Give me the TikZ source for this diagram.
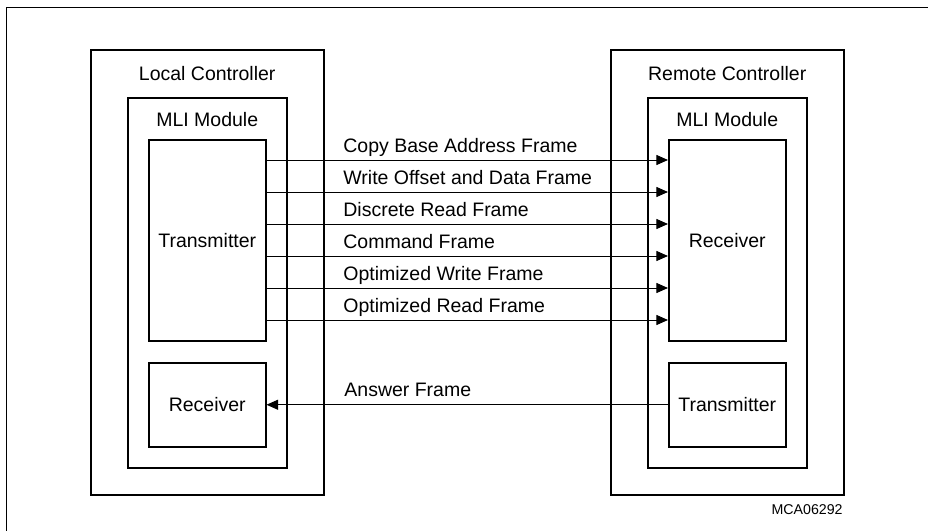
\documentclass[tikz,border=0pt]{standalone}
\usepackage{fontspec}
\setmainfont{Liberation Sans}
\usetikzlibrary{arrows.meta, positioning}
\tikzset{
  box/.style={
    rectangle, draw, line width=0.75pt, inner sep=0pt,
    font=\fontsize{9.75}{11.7}\selectfont, anchor=north west
  },
  ctlbox/.style={box, minimum width=116.5pt, minimum height=222.5pt},
  mlibox/.style={box, minimum width=79.5pt,  minimum height=185pt},
  unitbox/.style={box, minimum width=58.5pt, minimum height=100.5pt},
  smallbox/.style={box, minimum width=58.5pt, minimum height=42pt},
  title/.style={inner sep=0pt, font=\fontsize{9.75}{11.7}\selectfont},
  flbl/.style={inner sep=0pt, anchor=base west, font=\fontsize{9.75}{11.7}\selectfont},
  arr/.style={-{Triangle[length=5.8pt, width=5pt]}, line width=0.5pt}
}

\begin{document}
\begin{tikzpicture}[x=0.5pt, y=-0.5pt]
  \useasboundingbox (0,0) rectangle (928,531);
  \draw[line width=0.5pt] (6,531) -- (6,7) -- (928,7);

  % local side
  \node[ctlbox]   (lctl) at (90,49)   {};
  \node[mlibox]   (lmli) at (127,97)  {};
  \node[unitbox]  (ltx)  at (148,139) {Transmitter};
  \node[smallbox] (lrx)  at (148,362) {Receiver};
  \node[title, below=8.5pt of lctl.north] (lctlname) {Local Controller};
  \node[title, below=7.5pt of lmli.north] (lmliname) {MLI Module};

  % remote side
  \node[ctlbox]   (rctl) at (610,49)  {};
  \node[mlibox]   (rmli) at (647,97)  {};
  \node[unitbox]  (rrx)  at (668,139) {Receiver};
  \node[smallbox] (rtx)  at (668,362) {Transmitter};
  \node[title, below=8.5pt of rctl.north] (rctlname) {Remote Controller};
  \node[title, below=7.5pt of rmli.north] (rmliname) {MLI Module};

  % frames
  \foreach \y/\txt in {160/Copy Base Address Frame, 192/Write Offset and Data Frame,
                       224/Discrete Read Frame, 256/Command Frame,
                       288/Optimized Write Frame, 320/Optimized Read Frame}{
    \draw[arr] (ltx.east |- 0,\y) -- (rrx.west |- 0,\y);
    \node[flbl] (f\y) at (343,\y-8) {\txt};
  }
  \draw[arr] (rtx) -- (lrx);
  \node[flbl] (fans) at (344,396) {Answer Frame};

  \node[inner sep=0pt, anchor=base east, font=\fontsize{7.1}{8.5}\selectfont]
    (figid) at (843,514) {MCA06292};
\end{tikzpicture}
\end{document}
